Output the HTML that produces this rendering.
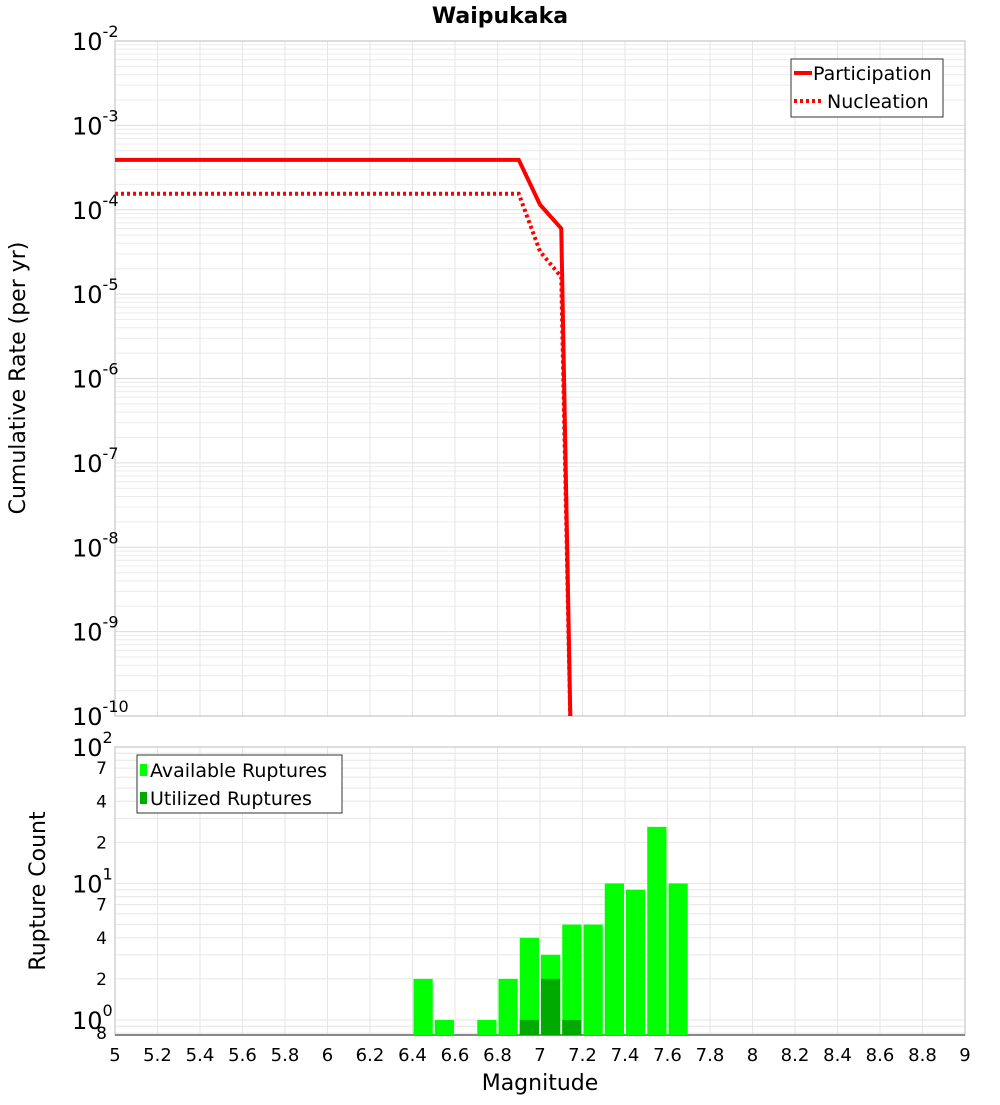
<!DOCTYPE html>
<html><head><meta charset="utf-8"><style>
body{margin:0;background:#fff;font-family:"Liberation Sans","DejaVu Sans",sans-serif}
svg text{font-family:"DejaVu Sans","Liberation Sans",sans-serif}
</style></head><body>
<svg id="c" width="1000" height="1100" xmlns="http://www.w3.org/2000/svg">
<text x="500" y="23" text-anchor="middle" font-size="22" font-weight="bold">Waipukaka</text>
<text transform="translate(25,378) rotate(-90)" text-anchor="middle" font-size="22">Cumulative Rate (per yr)</text>
<text transform="translate(45,891) rotate(-90)" text-anchor="middle" font-size="22">Rupture Count</text>
<text x="540" y="1090" text-anchor="middle" font-size="22">Magnitude</text>
</svg>
<script>
const partMag=[5,6.9,7.0,7.1,7.15];
const partRate=[3.9e-4,3.9e-4,1.15e-4,6.0e-5,1e-11];
const nuclMag=[5,6.9,7.0,7.1,7.15];
const nuclRate=[1.55e-4,1.55e-4,3.2e-5,1.6e-5,1e-11];
const binStart=[6.4,6.5,6.6,6.7,6.8,6.9,7.0,7.1,7.2,7.3,7.4,7.5,7.6];
const available=[2,1,0,1,2,4,3,5,5,10,9,26,10];
const utilized=[0,0,0,0,0,1,2,1,0,0,0,0,0];
const xTicks=[5,5.2,5.4,5.6,5.8,6,6.2,6.4,6.6,6.8,7,7.2,7.4,7.6,7.8,8,8.2,8.4,8.6,8.8,9];
const yExp=[-10,-9,-8,-7,-6,-5,-4,-3,-2];

const svg=document.getElementById('c');const NS='http://www.w3.org/2000/svg';
function mk(t,a,p){const e=document.createElementNS(NS,t);for(const k in a)e.setAttribute(k,a[k]);(p||svg).appendChild(e);return e;}
const L=115,R=965;
const X=m=>L+(m-5)/4*(R-L);
const T1=41,B1=716;const Y1=v=>T1+(-2-Math.log10(v))/8*(B1-T1);
const T2=747,B2=1035;const cMin=0.776;const Y2=v=>T2+(2-Math.log10(v))/(2-Math.log10(cMin))*(B2-T2);

const g1=mk('g',{});
for(let e=-10;e<-2;e++)for(let k=1;k<10;k++){const y=Y1(k*Math.pow(10,e));mk('line',{x1:L,x2:R,y1:y,y2:y,stroke:k==1?'#dcdcdc':'#ececec','stroke-width':1},g1);}
xTicks.forEach(t=>{mk('line',{x1:X(t),x2:X(t),y1:T1,y2:B1,stroke:'#e6e6e6'},g1);mk('line',{x1:X(t),x2:X(t),y1:T2,y2:B2,stroke:'#e6e6e6'},g1);});
for(let e=-1;e<2;e++)for(let k=1;k<10;k++){const v=k*Math.pow(10,e);if(v<cMin)continue;const y=Y2(v);mk('line',{x1:L,x2:R,y1:y,y2:y,stroke:'#e6e6e6'},g1);}
mk('rect',{x:L,y:T1,width:R-L,height:B1-T1,fill:'none',stroke:'#bbb'});
mk('rect',{x:L,y:T2,width:R-L,height:B2-T2,fill:'none',stroke:'#bbb'});
mk('line',{x1:L,x2:R,y1:B2,y2:B2,stroke:'#888','stroke-width':2});

yExp.forEach(e=>{const y=Y1(Math.pow(10,e));const t=mk('text',{x:72,y:y+9,'font-size':24});
 t.appendChild(document.createTextNode('10'));const s=mk('tspan',{dy:-13,'font-size':16},t);s.textContent=String(e);});
[[100,'2'],[10,'1'],[1,'0']].forEach(([v,e])=>{const y=Y2(v);const t=mk('text',{x:72,y:y+9,'font-size':24});
 t.appendChild(document.createTextNode('10'));const s=mk('tspan',{dy:-13,'font-size':16},t);s.textContent=e;});
[[70,'7'],[40,'4'],[20,'2'],[7,'7'],[4,'4'],[2,'2'],[0.8,'8']].forEach(([v,l])=>{const t=mk('text',{x:107,y:Y2(v)+6,'font-size':17,'text-anchor':'end'});t.textContent=l;});
xTicks.forEach(t=>{const e=mk('text',{x:X(t),y:1061,'font-size':18,'text-anchor':'middle'});e.textContent=String(t);});

const cp=mk('clipPath',{id:'cp'});mk('rect',{x:L,y:T1,width:R-L,height:B1-T1},cp);
function line(ms,vs,dash,name){const p=mk('polyline',{points:ms.map((m,i)=>X(m)+','+Y1(vs[i])).join(' '),fill:'none',stroke:'#f00','stroke-width':4,'clip-path':'url(#cp)'});if(dash)p.setAttribute('stroke-dasharray','3,3');}
line(nuclMag,nuclRate,true,'nucleation-line');
line(partMag,partRate,false,'participation-line');

binStart.forEach((b,i)=>{const x0=X(b)+1,w=X(b+0.1)-X(b)-2;
 if(available[i]>0){const r=mk('rect',{x:x0,y:Y2(available[i]),width:w,height:B2-Y2(available[i]),fill:'#00ff00'});}
 if(utilized[i]>0){const r=mk('rect',{x:x0,y:Y2(utilized[i]),width:w,height:B2-Y2(utilized[i]),fill:'#00aa00'});}
});

const lg=mk('g',{});
mk('rect',{x:791,y:59,width:152,height:58,fill:'#fff',stroke:'#333'},lg);
mk('line',{x1:794,x2:812,y1:73,y2:73,stroke:'#f00','stroke-width':4},lg);
mk('line',{x1:794,x2:822,y1:101,y2:101,stroke:'#f00','stroke-width':4,'stroke-dasharray':'3,3'},lg);
let t=mk('text',{x:813,y:80,'font-size':19},lg);t.textContent='Participation';
t=mk('text',{x:827,y:108,'font-size':19},lg);t.textContent='Nucleation';
const lg2=mk('g',{});
mk('rect',{x:137,y:755,width:205,height:58,fill:'#fff',stroke:'#333'},lg2);
mk('rect',{x:140,y:764,width:7,height:12,fill:'#00ff00'},lg2);
mk('rect',{x:140,y:792,width:7,height:12,fill:'#00aa00'},lg2);
t=mk('text',{x:150,y:777,'font-size':19},lg2);t.textContent='Available Ruptures';
t=mk('text',{x:150,y:805,'font-size':19},lg2);t.textContent='Utilized Ruptures';
</script>
</body></html>
